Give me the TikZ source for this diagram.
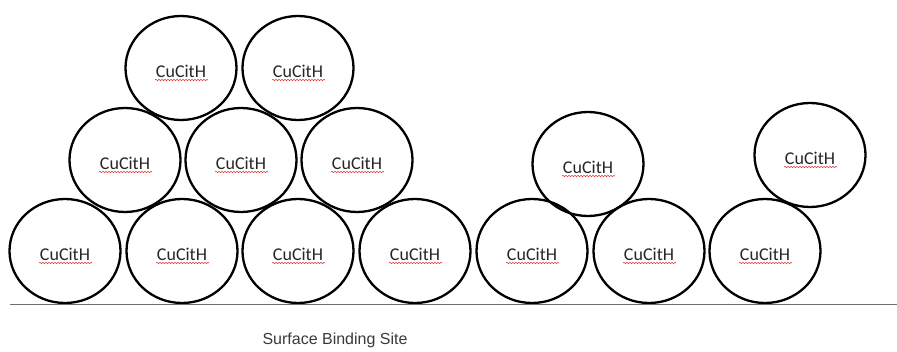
\documentclass[tikz,border=0pt]{standalone}
\usepackage{fontspec}
\setmainfont{Carlito}
\newfontfamily\labelfont{Liberation Sans}
\usetikzlibrary{shapes.geometric,decorations.pathmorphing}
\definecolor{squiggle}{HTML}{E03C3C}
\definecolor{groundgray}{HTML}{707070}
\definecolor{captiongray}{HTML}{3A3A3A}
\tikzset{
  unit/.style={ellipse, draw=black, line width=2.3pt, minimum width=111pt,
    minimum height=104pt, inner sep=0pt, font=\fontsize{18}{20}\selectfont,
    text height=20pt, text depth=0pt, text=black!85},
  wavy/.style={draw=squiggle, line width=0.6pt,
    decorate, decoration={snake, segment length=3pt, amplitude=0.7pt}},
  ground/.style={draw=groundgray, line width=1.4pt},
}
\begin{document}
\begin{tikzpicture}[x=1pt,y=-1pt]
  \useasboundingbox (0,0) rectangle (897,352);
  % bottom row on the surface
  \node[unit] (b1) at (65,251) {CuCitH};
  \node[unit] (b2) at (182,251) {CuCitH};
  \node[unit] (b3) at (298,251) {CuCitH};
  \node[unit] (b4) at (415,251) {CuCitH};
  \node[unit] (b5) at (532,251) {CuCitH};
  \node[unit] (b6) at (649,251) {CuCitH};
  \node[unit] (b7) at (765,251) {CuCitH};
  % second layer
  \node[unit] (m1) at (125,160) {CuCitH};
  \node[unit] (m2) at (241,160) {CuCitH};
  \node[unit] (m3) at (357,160) {CuCitH};
  \node[unit] (m4) at (588,164) {CuCitH};
  \node[unit] (m5) at (810,155) {CuCitH};
  % top layer
  \node[unit] (t1) at (181,68) {CuCitH};
  \node[unit] (t2) at (298,68) {CuCitH};
  % spell-check underlines
  \foreach \n in {b1,b2,b3,b4,b5,b6,b7,m1,m2,m3,m4,m5,t1,t2}
    \draw[wavy] ([xshift=-26pt,yshift=-12pt]\n.center) -- ([xshift=27pt,yshift=-12pt]\n.center);
  % surface
  \coordinate (s0) at (10,304.5);
  \coordinate (s1) at (897,304.5);
  \draw[ground] (s0) -- (s1);
  \node[font=\labelfont\fontsize{16}{18}\selectfont, text=captiongray] (cap) at (335,340) {Surface Binding Site};
\end{tikzpicture}
\end{document}
